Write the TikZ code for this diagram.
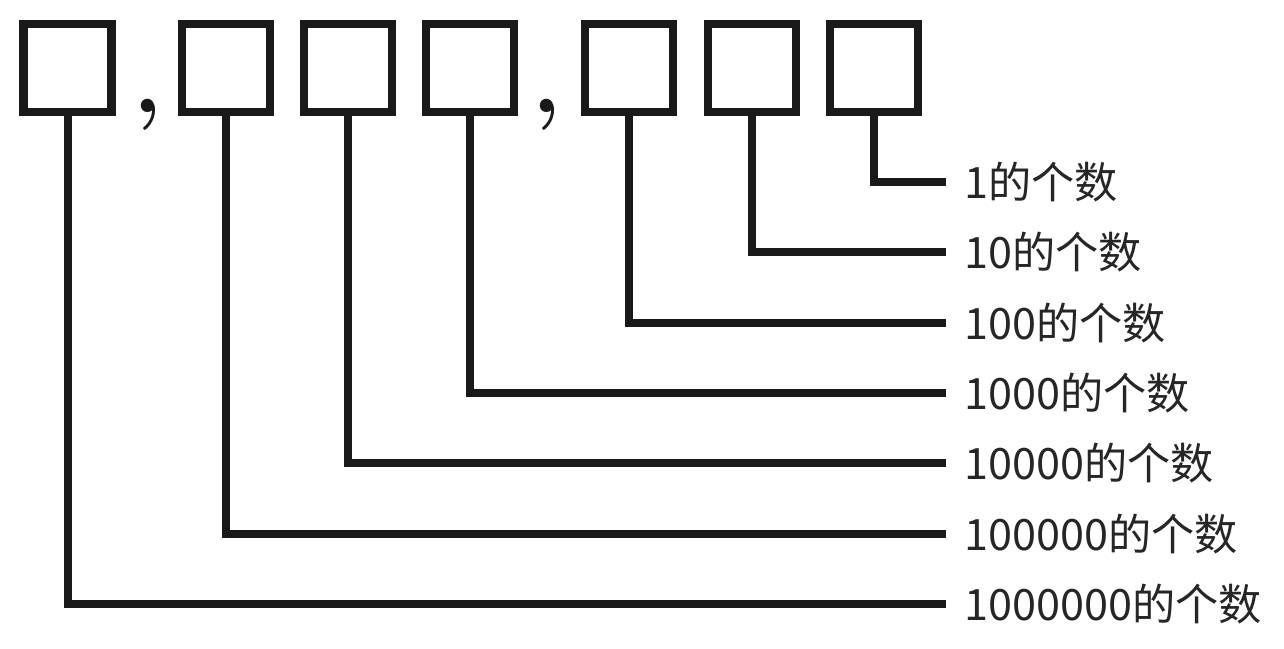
\documentclass[tikz,border=0pt]{standalone}
\usepackage{fontspec}
\newfontfamily\cjk{Noto Sans CJK SC}
\begin{document}
\begin{tikzpicture}[x=0.5pt,y=-0.5pt,
  digitbox/.style={draw=black!90, line width=4.2pt, minimum width=44pt, minimum height=44pt, inner sep=0pt, fill=white},
  link/.style={draw=black!90, line width=4pt, line join=miter, shorten >=9pt},
  lbl/.style={anchor=west, inner sep=0pt, font=\cjk\fontsize{21.6pt}{21.6pt}\selectfont, text=black!85},
  sep/.style={inner sep=0pt, font=\fontsize{46pt}{46pt}\selectfont\bfseries, text=black!90}]
\useasboundingbox (0,0) rectangle (1284,648);
\fill[white] (0,0) rectangle (1284,648);
% boxes
\node[digitbox] (b1) at (67.5,68) {};
\node[digitbox] (b2) at (226,68) {};
\node[digitbox] (b3) at (348,68) {};
\node[digitbox] (b4) at (470,68) {};
\node[digitbox] (b5) at (629,68) {};
\node[digitbox] (b6) at (752,68) {};
\node[digitbox] (b7) at (874,68) {};
% commas
\node[sep] (c1) at (148,115) {,};
\node[sep] (c2) at (547,115) {,};
% labels
\node[lbl] (l1) at (964,182) {1的个数};
\node[lbl] (l2) at (964,252.3) {10的个数};
\node[lbl] (l3) at (964,322.7) {100的个数};
\node[lbl] (l4) at (964,393) {1000的个数};
\node[lbl] (l5) at (964,463.3) {10000的个数};
\node[lbl] (l6) at (964,533.7) {100000的个数};
\node[lbl] (l7) at (964,604) {1000000的个数};
% connectors
\draw[link] (b7.south) |- (l1.west);
\draw[link] (b6.south) |- (l2.west);
\draw[link] (b5.south) |- (l3.west);
\draw[link] (b4.south) |- (l4.west);
\draw[link] (b3.south) |- (l5.west);
\draw[link] (b2.south) |- (l6.west);
\draw[link] (b1.south) |- (l7.west);
\end{tikzpicture}
\end{document}
